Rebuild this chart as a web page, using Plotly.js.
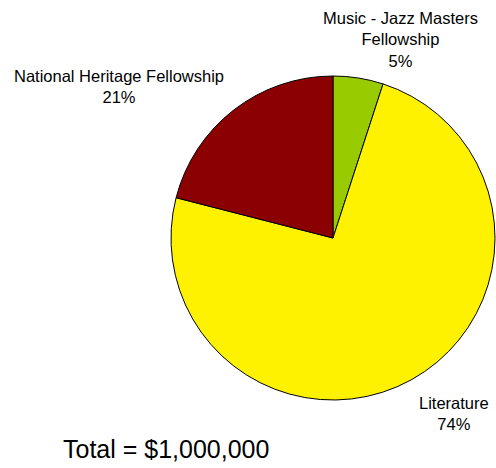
<!DOCTYPE html>
<html><head><meta charset="utf-8">
<script src="https://cdn.plot.ly/plotly-3.0.1.min.js"></script>
<style>html,body{margin:0;padding:0;background:#fff}#c{width:496px;height:468px}</style>
</head><body><div id="c"></div>
<script>
var categories = ["Music - Jazz Masters<br>Fellowship", "Literature", "National Heritage Fellowship"];
var values = [5, 74, 21];
var colors = ["#99cc00", "#fff200", "#8b0000"];
var totalLabel = "Total = $1,000,000";

var labelPos = [[400, 39], [454, 413], [119, 86]];
var W = 496, H = 468;
var annotations = categories.map(function(c, i){
  return {text: c + "<br>" + values[i] + "%", x: labelPos[i][0]/W, y: 1 - labelPos[i][1]/H,
    xref: "paper", yref: "paper", showarrow: false, xanchor: "center", yanchor: "middle",
    font: {family: "Liberation Sans, Arial, sans-serif", size: 16.5, color: "#000"}};
});
annotations.push({text: totalLabel, x: 166/W, y: 1 - 449/H, xref: "paper", yref: "paper",
  showarrow: false, xanchor: "center", yanchor: "middle",
  font: {family: "Liberation Sans, Arial, sans-serif", size: 25, color: "#000"}});

Plotly.newPlot("c", [{
  type: "pie", labels: categories, values: values, sort: false, direction: "clockwise", rotation: 0,
  marker: {colors: colors, line: {color: "#000", width: 1}},
  textinfo: "none", hoverinfo: "none",
  domain: {x: [171/W, 495/W], y: [1 - 400/H, 1 - 76/H]}
}], {
  width: W, height: H, margin: {l: 0, r: 0, t: 0, b: 0}, showlegend: false,
  paper_bgcolor: "#fff", annotations: annotations
}, {displayModeBar: false, staticPlot: true});
</script></body></html>
